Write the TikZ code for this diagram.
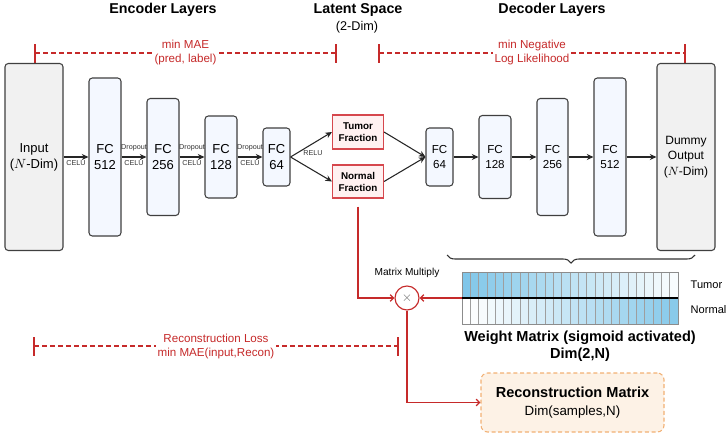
\documentclass[tikz,border=0pt]{standalone}
\usepackage{fontspec}
\setmainfont{Liberation Sans}
\usetikzlibrary{arrows.meta,decorations.pathreplacing}
\definecolor{boxgray}{HTML}{3F3F3F}
\definecolor{fcfill}{HTML}{F4F8FF}
\definecolor{iofill}{HTML}{F1F1F1}
\definecolor{fracred}{HTML}{D6474D}
\definecolor{fracfill}{HTML}{FFF1F1}
\definecolor{lossred}{HTML}{C62A2A}
\definecolor{recfill}{HTML}{FDF2E6}
\definecolor{recborder}{HTML}{F2B074}
\definecolor{wm}{HTML}{72C0E6}
\begin{document}
\begin{tikzpicture}[x=0.75pt,y=-0.75pt,
  wh/.style 2 args={minimum width=#1*0.75pt, minimum height=#2*0.75pt},
  nnbox/.style={draw=boxgray, line width=0.8pt, rounded corners=2.5pt, inner sep=0pt, align=center},
  encbox/.style={nnbox, fill=fcfill, font=\fontsize{9.75}{12}\selectfont},
  decbox/.style={nnbox, fill=fcfill, font=\fontsize{8.7}{11}\selectfont},
  iobox/.style={nnbox, fill=iofill, font=\fontsize{9.75}{12}\selectfont},
  fracbox/.style={draw=fracred, fill=fracfill, line width=0.8pt, inner sep=0pt, align=center, font=\fontsize{7.4}{9}\selectfont\bfseries},
  conn/.style={-{Stealth[length=5pt,width=4.5pt]}, line width=0.8pt, black!85},
  redconn/.style={-{Straight Barb[length=2.5pt,width=5pt]}, line width=1pt, lossred},
  lossline/.style={lossred, dash pattern=on 3.5pt off 2.5pt, line width=0.85pt},
  redtick/.style={lossred, line width=0.85pt},
  tinylab/.style={font=\fontsize{5.4}{6}\selectfont, inner sep=1pt, text=black!80},
  losslabel/.style={text=lossred, fill=white, align=center, font=\fontsize{8.7}{10.5}\selectfont, inner sep=1.5pt},
  titlelab/.style={font=\fontsize{10.7}{13}\selectfont\bfseries},
]
\useasboundingbox (0,0) rectangle (728,439);

% titles
\node[titlelab] (t1) at (163,10) {Encoder Layers};
\node[titlelab] (t2) at (358,10) {Latent Space};
\node[font=\fontsize{9.5}{11}\selectfont] (t2b) at (357,27) {(2-Dim)};
\node[titlelab] (t3) at (552,10) {Decoder Layers};

% loss lines top
\draw[lossline] (35,53) -- node[losslabel]{min MAE\\(pred, label)} (336,53);
\draw[redtick] (35,44) -- (35,63);
\draw[redtick] (336,44) -- (336,63);
\draw[lossline] (379,53) -- node[losslabel]{min Negative\\Log Likelihood} (685,53);
\draw[redtick] (379,44) -- (379,63);
\draw[redtick] (685,44) -- (685,63);

% encoder
\node[iobox, wh={58}{187}] (in) at (34,157) {Input\\($N$-Dim)};
\node[encbox, wh={32}{158}] (e512) at (105,157) {FC\\512};
\node[encbox, wh={32}{117}] (e256) at (163,157) {FC\\256};
\node[encbox, wh={32}{82}] (e128) at (221,157) {FC\\128};
\node[encbox, wh={27}{58}] (e64) at (276.5,157) {FC\\64};

\draw[conn] (in) -- node[tinylab, below=1pt]{CELU} (e512);
\draw[conn] (e512) -- node[tinylab, below=1pt]{CELU} node[tinylab, above=3pt]{Dropout} (e256);
\draw[conn] (e256) -- node[tinylab, below=1pt]{CELU} node[tinylab, above=3pt]{Dropout} (e128);
\draw[conn] (e128) -- node[tinylab, below=1pt]{CELU} node[tinylab, above=3pt]{Dropout} (e64);

% latent
\node[fracbox, wh={51}{34}] (tum) at (358,132) {Tumor\\Fraction};
\node[fracbox, wh={51}{33}] (nor) at (358,181.5) {Normal\\Fraction};
\draw[conn] (e64.east) -- (tum.west);
\draw[conn] (e64.east) -- (nor.west);
\node[tinylab] (relu) at (313,153) {RELU};

% decoder
\node[decbox, wh={27}{58}] (d64) at (439.5,157) {FC\\64};
\node[decbox, wh={32}{83}] (d128) at (495,157) {FC\\128};
\node[decbox, wh={31}{117}] (d256) at (552.5,157) {FC\\256};
\node[decbox, wh={32}{158}] (d512) at (610,157) {FC\\512};
\node[iobox, wh={58}{187}, font=\fontsize{9}{11.5}\selectfont] (out) at (686,157) {Dummy\\Output\\($N$-Dim)};

\draw[conn] (tum.east) -- (d64.west);
\draw[conn] (nor.east) -- (d64.west);
\draw[conn] (d64) -- (d128);
\draw[conn] (d128) -- (d256);
\draw[conn] (d256) -- (d512);
\draw[conn] (d512) -- (out);

% brace
\draw[decorate, decoration={brace, amplitude=6pt}, line width=0.8pt, black!80] (695,255) -- (447,255);

% weight matrix
\foreach \i in {0,...,25} {
  \pgfmathsetmacro\xa{462+\i*216/26}
  \pgfmathsetmacro\xb{462+(\i+1)*216/26}
  \pgfmathsetmacro\ct{int(90-\i*3.4)}
  \pgfmathsetmacro\cn{int(\i*3.4)}
  \fill[wm!\ct] (\xa,272) rectangle (\xb,298);
  \fill[wm!\cn] (\xa,298) rectangle (\xb,324);
}
\foreach \i in {1,...,25} {
  \pgfmathsetmacro\xb{462+\i*216/26}
  \draw[black!38, line width=0.6pt] (\xb,272) -- (\xb,324);
}
\node[wh={216}{52}, inner sep=0pt, draw=black!45, line width=0.6pt] (wmat) at (570,298) {};
\draw[black, line width=0.8pt] (wmat.west) -- (wmat.east);
\node[anchor=west, font=\fontsize{8.3}{10}\selectfont] (ltum) at (686,285) {Tumor};
\node[anchor=west, font=\fontsize{8.3}{10}\selectfont] (lnor) at (686,310) {Normal};
\node[align=center, font=\fontsize{10.9}{12.75}\selectfont\bfseries] (wtitle) at (580,346.5) {Weight Matrix (sigmoid activated)\\Dim(2,N)};

% matrix multiply
\node[circle, draw=lossred, fill=white, minimum size=24*0.75pt, inner sep=0pt, line width=0.85pt] (mult) at (407,298) {\textcolor{black!60}{$\times$}};
\node[font=\fontsize{7.6}{9}\selectfont] (mmlab) at (407,273) {Matrix Multiply};
\draw[redconn, shorten <=6pt] (nor.south) |- (mult.west);
\draw[redconn] (wmat.west) -- (mult.east);

% reconstruction
\node[draw=recborder, fill=recfill, dash pattern=on 3pt off 2pt, line width=0.8pt, rounded corners=5pt, wh={183}{59}, align=center, inner sep=0pt] (rec) at (572.5,402.5)
  {{\fontsize{10.9}{14}\selectfont\bfseries Reconstruction Matrix}\\[1pt]{\fontsize{10}{12}\selectfont Dim(samples,N)}};
\draw[redconn] (mult.south) |- (rec.west);

% reconstruction loss
\draw[lossline] (34,346) -- node[losslabel]{Reconstruction Loss\\min MAE(input,Recon)} (398,346);
\draw[redtick] (34,337) -- (34,356);
\draw[redtick] (398,337) -- (398,356);
\end{tikzpicture}
\end{document}
